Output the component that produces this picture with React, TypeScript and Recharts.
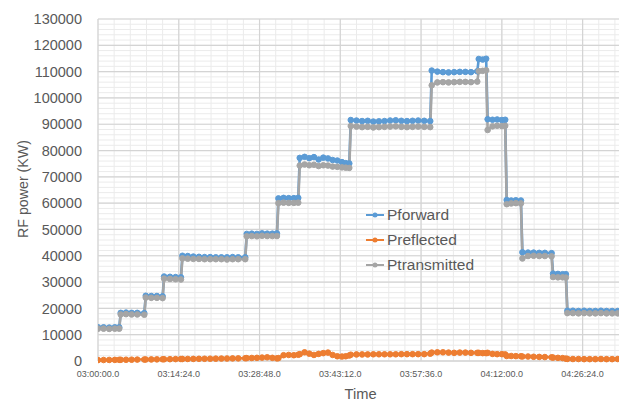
import React from 'react';
import { LineChart, Line, XAxis, YAxis, CartesianGrid, Legend } from 'recharts';

// seconds elapsed since 03:00:00.0
const times = [
  0, 60, 120, 180, 227,
  243, 300, 360, 420, 495,
  511, 570, 630, 691,
  707, 770, 830, 887,
  903, 960, 1020, 1080, 1140, 1200, 1260, 1320, 1380, 1440, 1500, 1575,
  1591, 1645, 1700, 1755, 1810, 1865, 1914,
  1930, 1985, 2040, 2095, 2142,
  2158, 2210, 2260, 2310, 2360, 2410, 2460, 2510, 2560, 2610, 2650, 2688,
  2704, 2765, 2825, 2885, 2945, 3005, 3065, 3125, 3185, 3245, 3305, 3365, 3425, 3490, 3554,
  3570, 3630, 3690, 3750, 3810, 3870, 3930, 3990, 4057,
  4073, 4115, 4152,
  4168, 4220, 4270, 4320, 4356,
  4372, 4420, 4470, 4524,
  4540, 4600, 4660, 4720, 4780, 4852,
  4868, 4920, 4970, 5005,
  5021, 5080, 5140, 5200, 5260, 5320, 5380, 5440, 5500, 5560, 5600,
];

const pforward = [
  12800, 12800, 12700, 12800, 12800,
  18300, 18400, 18300, 18300, 18200,
  24800, 24700, 24700, 24600,
  32100, 32000, 31900, 31800,
  40000, 39900, 39700, 39600, 39500, 39500, 39400, 39400, 39400, 39500, 39400, 39400,
  48300, 48400, 48300, 48500, 48400, 48400, 48500,
  61800, 62000, 61900, 61900, 62000,
  77200, 77600, 77100, 77500, 76600, 77300, 77000, 76400, 76200, 75600, 75200, 75100,
  91600, 91400, 91200, 91300, 91000, 91100, 91200, 91400, 91500, 91300, 91200, 91300, 91400, 91300, 91200,
  110400, 110000, 109800, 109700, 109800, 109900, 109900, 109800, 110100,
  114800, 114600, 114900,
  91900, 91700, 91800, 91600, 91700,
  61200, 61000, 61100, 61000,
  41300, 41200, 41200, 41100, 41100, 41000,
  33200, 33100, 33000, 33000,
  19100, 19100, 19000, 19100, 19000, 19000, 19100, 19000, 19000, 19000, 19100,
];

const preflected = [
  350, 380, 400, 420, 450,
  460, 480, 500, 530, 560,
  570, 600, 620, 650,
  660, 690, 720, 750,
  760, 780, 800, 830, 850, 880, 900, 930, 950, 980, 1000, 1050,
  1100, 1150, 1200, 1300, 1400, 1200, 1000,
  1100, 2200, 2300, 2200, 2400,
  2600, 3300, 2800, 2300, 2700, 3000, 3200, 2300, 1800, 1700, 1800, 2100,
  2400, 2500, 2500, 2500, 2550, 2550, 2550, 2550, 2550, 2600, 2600, 2600, 2600, 2600, 2800,
  3200, 3300, 3300, 3200, 3100, 3200, 3200, 3100, 3100,
  3100, 3000, 3000,
  3100, 2700, 2600, 2600, 2500,
  1900, 1900, 1850, 1800,
  1700, 1700, 1600, 1550, 1500, 1400,
  1300, 1200, 1100, 900,
  800, 750, 750, 700, 700, 700, 750, 700, 700, 750, 800,
];

const ptransmitted = [
  12300, 12300, 12200, 12300, 12300,
  17700, 17800, 17700, 17700, 17600,
  24100, 24000, 24000, 23900,
  31300, 31200, 31100, 31000,
  39000, 38900, 38800, 38800, 38700, 38700, 38700, 38700, 38600, 38700, 38700, 38700,
  47400, 47500, 47400, 47600, 47500, 47500, 47500,
  60000, 60200, 60100, 60100, 60200,
  74300, 74700, 74400, 74600, 74100, 74400, 74300, 73900, 73800, 73600, 73500, 73400,
  89300, 89100, 88900, 89000, 88800, 88900, 89000, 89100, 89200, 89000, 88900, 89000, 89100, 89000, 88900,
  104800, 105900, 106000, 105900, 106000, 106100, 106100, 106000, 106200,
  110200, 110300, 110500,
  87800, 89200, 89400, 89300, 89400,
  59600, 59900, 60000, 59900,
  39000, 39900, 40000, 39900, 39900, 39800,
  31900, 31800, 31800, 31700,
  18200, 18200, 18100, 18200, 18100, 18100, 18200, 18100, 18100, 18100, 18200,
];

const seriesNames = ['Pforward', 'Preflected', 'Ptransmitted'];
const seriesColors = ['#5B9BD5', '#ED7D31', '#A5A5A5'];

const xMax = 5616; // 04:33:36
const yMax = 130000;
const xMajorTicks = [0, 864, 1728, 2592, 3456, 4320, 5184];
const xMinorTicks = Array.from({ length: 33 }, (_, i) => i * 172.8);
const yMajorTicks = [0, 10000, 20000, 30000, 40000, 50000, 60000, 70000, 80000, 90000, 100000, 110000, 120000, 130000];
const yMinorTicks = Array.from({ length: 66 }, (_, i) => i * 2000);

const data = times.map((t, i) => ({
  t,
  Pforward: pforward[i],
  Preflected: preflected[i],
  Ptransmitted: ptransmitted[i],
}));

const FONT = '"Liberation Sans", Arial, sans-serif';
const TEXT = '#595959';

const pad = (n: number) => (n < 10 ? '0' + n : '' + n);
const fmtTime = (s: number) => {
  const total = Math.round(3 * 3600 + s);
  const h = Math.floor(total / 3600);
  const m = Math.floor((total % 3600) / 60);
  const sec = total % 60;
  return `${pad(h)}:${pad(m)}:${pad(sec)}.0`;
};

const minorVertical = (p: any) => {
  const sc = p?.xAxis?.scale;
  return xMinorTicks.map((v) =>
    typeof sc === 'function' ? sc(v) : p.offset.left + (p.offset.width * v) / xMax
  );
};
const minorHorizontal = (p: any) => {
  const sc = p?.yAxis?.scale;
  return yMinorTicks.map((v) =>
    typeof sc === 'function' ? sc(v) : p.offset.top + p.offset.height - (p.offset.height * v) / yMax
  );
};

const YLabel = (props: any) => {
  const vb = props.viewBox || {};
  const cx = vb.x + 14.5;
  const cy = vb.y + vb.height / 2 - 1;
  return (
    <text x={cx} y={cy} transform={`rotate(-90, ${cx}, ${cy})`} textAnchor="middle" dominantBaseline="central"
      fill={TEXT} fontFamily={FONT} fontSize={14.2}>
      RF power (KW)
    </text>
  );
};

const XLabel = (props: any) => {
  const vb = props.viewBox || {};
  const cx = vb.x + vb.width / 2;
  const cy = vb.y + 33;
  return (
    <text x={cx} y={cy} textAnchor="middle" dominantBaseline="central" fill={TEXT} fontFamily={FONT} fontSize={14.7}>
      Time
    </text>
  );
};

const LegendContent = (props: any) => {
  const payload = props.payload || [];
  return (
    <div style={{ fontFamily: FONT, fontSize: 15.5, color: TEXT }}>
      {payload.map((p: any) => (
        <div key={p.value} style={{ height: 25.3, display: 'flex', alignItems: 'center' }}>
          <svg width={20} height={10} style={{ marginRight: 2 }}>
            <line x1={1} y1={5} x2={19} y2={5} stroke={p.color} strokeWidth={2} />
            <circle cx={10} cy={5} r={2.5} fill={p.color} />
          </svg>
          <span>{p.value}</span>
        </div>
      ))}
    </div>
  );
};

export default function App() {
  return (
    <LineChart width={619} height={395} data={data} margin={{ top: 11, right: 4, bottom: 0, left: 0 }}>
      <CartesianGrid
        stroke="#ebebeb"
        strokeWidth={1}
        verticalCoordinatesGenerator={minorVertical}
        horizontalCoordinatesGenerator={minorHorizontal}
      />
      <CartesianGrid stroke="#d4d4d4" strokeWidth={1.2} />
      <XAxis
        dataKey="t"
        type="number"
        domain={[0, xMax]}
        ticks={xMajorTicks}
        interval={0}
        allowDataOverflow
        height={42}
        tickFormatter={fmtTime}
        tickLine={false}
        tickSize={6}
        tickMargin={4}
        axisLine={{ stroke: '#d4d4d4' }}
        tick={{ fill: TEXT, fontFamily: FONT, fontSize: 9 }}
        label={<XLabel />}
      />
      <YAxis
        type="number"
        domain={[0, yMax]}
        ticks={yMajorTicks}
        interval={0}
        width={90}
        tickLine={false}
        axisLine={false}
        tickSize={6}
        tickMargin={10}
        tick={{ fill: TEXT, fontFamily: FONT, fontSize: 14.5 }}
        label={<YLabel />}
      />
      <Legend
        layout="vertical"
        align="center"
        verticalAlign="middle"
        content={<LegendContent />}
        wrapperStyle={{ left: 357, top: 194, width: 160 }}
      />
      {seriesNames.map((name, i) => (
        <Line
          key={name}
          type="linear"
          dataKey={name}
          name={name}
          stroke={seriesColors[i]}
          strokeWidth={2.6}
          dot={{ r: 2.8, fill: seriesColors[i], stroke: seriesColors[i], strokeWidth: 1 }}
          activeDot={false}
          isAnimationActive={false}
        />
      ))}
    </LineChart>
  );
}
